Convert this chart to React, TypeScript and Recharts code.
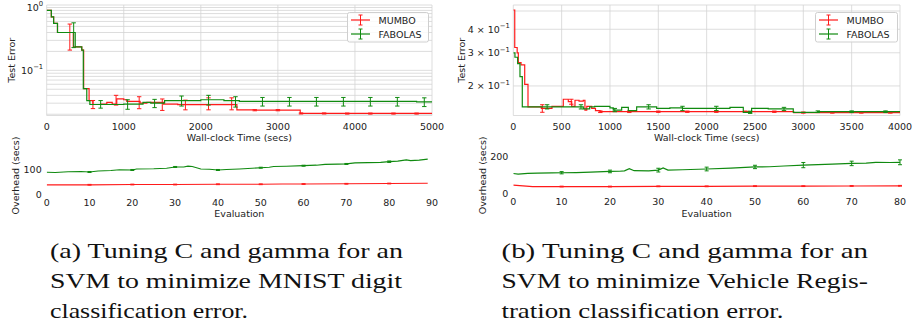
import React from 'react';
import {
  ComposedChart,
  Line,
  Scatter,
  ErrorBar,
  XAxis,
  YAxis,
  CartesianGrid,
  ReferenceArea,
  Legend,
} from 'recharts';

const RED = '#ff1a1a';
const GREEN = '#108a10';
const FONT = 'DejaVu Sans';
const FS = 9.5;
const TXT = '#222';
const FRAME = '#9a9a9a';
const GRID = '#d4d4d4';

// ---------- (a) MNIST : test error vs wall-clock time ----------
const mnistMumboTime = [0, 60, 90, 140, 345, 455, 480, 550, 600, 700, 780, 850, 909, 1000, 1039, 1212, 1300, 1515, 1700, 2468, 2700, 3290, 5000];
const mnistMumboErr = [0.9, 0.71, 0.56, 0.4, 0.236, 0.21, 0.051, 0.033, 0.0286, 0.029, 0.031, 0.029, 0.035, 0.034, 0.032, 0.03, 0.031, 0.029, 0.0285, 0.0235, 0.0232, 0.0206, 0.0205];
const mnistFabolasTime = [0, 60, 90, 140, 370, 455, 475, 520, 560, 1000, 1250, 1350, 1530, 2000, 2300, 2500, 4800, 5000];
const mnistFabolasErr = [0.9, 0.71, 0.56, 0.4, 0.236, 0.21, 0.051, 0.033, 0.0286, 0.029, 0.031, 0.03, 0.033, 0.034, 0.033, 0.032, 0.0315, 0.0315];

const mnistMumboBarTime = [300, 600, 900, 1200, 1500, 1800, 2100, 2400, 2700, 3000, 3300, 3600, 3900, 4200, 4500, 4800];
const mnistMumboBarMean = [0.4, 0.0286, 0.032, 0.03, 0.029, 0.0285, 0.0285, 0.0285, 0.0232, 0.0232, 0.0206, 0.0206, 0.0205, 0.0205, 0.0205, 0.0205];
const mnistMumboBarLow = [0.19, 0.004, 0.004, 0.0055, 0.006, 0.005, 0.005, 0.005, 0.0005, 0.0005, 0.0004, 0.0004, 0.0004, 0.0004, 0.0004, 0.0004];
const mnistMumboBarHigh = [0.145, 0.0045, 0.008, 0.008, 0.006, 0.005, 0.008, 0.008, 0.0005, 0.0005, 0.0004, 0.0004, 0.0004, 0.0004, 0.0004, 0.0004];
const mnistFabolasBarTime = [350, 700, 1050, 1400, 1750, 2100, 2450, 2800, 3150, 3500, 3850, 4200, 4550, 4900];
const mnistFabolasBarMean = [0.4, 0.029, 0.029, 0.03, 0.033, 0.034, 0.032, 0.032, 0.032, 0.032, 0.032, 0.032, 0.032, 0.0315];
const mnistFabolasBarErr = [0.17, 0.004, 0.005, 0.0045, 0.006, 0.006, 0.006, 0.005, 0.005, 0.005, 0.005, 0.005, 0.005, 0.005];

const mnistTimeTicks = [0, 1000, 2000, 3000, 4000, 5000];
const mnistErrTicks = [0.02, 0.03, 0.04, 0.05, 0.06, 0.07, 0.08, 0.09, 0.1, 0.2, 0.3, 0.4, 0.5, 0.6, 0.7, 0.8, 0.9, 1];
const mnistErrLabels = [
  { value: 0.1, pre: '', exp: '\u22121' },
  { value: 1, pre: '', exp: '0' },
];

// ---------- (a) MNIST : overhead vs evaluation ----------
const mnistEvalFab = [0, 2, 5, 8, 10, 12, 15, 17, 20, 21, 25, 28, 30, 32, 33, 34, 36, 38, 40, 42, 45, 48, 50, 52, 53, 56, 60, 63, 65, 68, 70, 72, 75, 78, 80, 82, 84, 85, 87, 89];
const mnistOverFab = [88, 87, 90, 91, 89, 93, 95, 98, 97, 101, 102, 104, 109, 109, 112, 111, 101, 100, 97, 99, 101, 104, 106, 108, 111, 112, 114, 116, 119, 120, 121, 125, 126, 127, 130, 132, 137, 134, 136, 140];
const mnistEvalMum = [0, 10, 20, 30, 40, 50, 55, 60, 70, 80, 89];
const mnistOverMum = [38, 38, 39, 39, 40, 40, 41, 41, 42, 43, 44];
const mnistOverBarEval = [10, 20, 30, 40, 50, 60, 70, 80];
const mnistOverBarFab = [89, 97, 109, 97, 106, 114, 121, 130];
const mnistOverBarFabErr = [2, 2, 2, 2, 2, 2, 2, 3];
const mnistOverBarMum = [38, 39, 39, 40, 40, 41, 42, 43];
const mnistOverBarMumErr = [1.5, 1.5, 1.5, 1.5, 1.5, 1.5, 1.5, 1.5];
const mnistEvalTicks = [0, 10, 20, 30, 40, 50, 60, 70, 80, 90];
const mnistOverTicks = [0, 100];

// ---------- (b) Vehicle : test error vs wall-clock time ----------
const vehMumboTime = [0, 15, 40, 52, 80, 118, 152, 290, 400, 517, 569, 604, 638, 680, 724, 741, 760, 811, 850, 897, 2900, 4000];
const vehMumboErr = [0.506, 0.32, 0.3, 0.266, 0.259, 0.204, 0.155, 0.152, 0.156, 0.17, 0.165, 0.156, 0.168, 0.166, 0.168, 0.149, 0.156, 0.152, 0.148, 0.146, 0.1445, 0.1445];
const vehFabolasTime = [0, 17, 45, 69, 93, 724, 790, 840, 1000, 1034, 1121, 1190, 1276, 1483, 1620, 1750, 2241, 2379, 2465, 2637, 2896, 3150, 4000];
const vehFabolasErr = [0.3, 0.284, 0.263, 0.224, 0.155, 0.151, 0.155, 0.156, 0.153, 0.149, 0.154, 0.148, 0.155, 0.152, 0.153, 0.152, 0.154, 0.145, 0.152, 0.151, 0.145, 0.146, 0.146];

const vehMumboBarTime = [300, 600, 900, 1200, 1500, 1800, 2100, 2400, 2700, 3000, 3300, 3600, 3900];
const vehMumboBarMean = [0.152, 0.165, 0.146, 0.146, 0.146, 0.146, 0.146, 0.146, 0.146, 0.1445, 0.1445, 0.1445, 0.1445];
const vehMumboBarErr = [0.007, 0.005, 0.0015, 0.0015, 0.0012, 0.0012, 0.0012, 0.0012, 0.0012, 0.001, 0.001, 0.001, 0.001];
const vehFabolasBarTime = [350, 700, 1050, 1400, 1750, 2100, 2450, 2800, 3150, 3500, 3850];
const vehFabolasBarMean = [0.155, 0.155, 0.149, 0.155, 0.152, 0.152, 0.145, 0.151, 0.146, 0.146, 0.146];
const vehFabolasBarErr = [0.004, 0.004, 0.003, 0.004, 0.004, 0.004, 0.002, 0.003, 0.0015, 0.0015, 0.0015];

const vehTimeTicks = [0, 500, 1000, 1500, 2000, 2500, 3000, 3500, 4000];
const vehErrTicks = [0.2, 0.3, 0.4, 0.5];
const vehErrLabels = [
  { value: 0.2, pre: '2 \u00d7 ', exp: '\u22121' },
  { value: 0.3, pre: '3 \u00d7 ', exp: '\u22121' },
  { value: 0.4, pre: '4 \u00d7 ', exp: '\u22121' },
];

// ---------- (b) Vehicle : overhead vs evaluation ----------
const vehEvalFab = [0, 1, 3, 5, 8, 10, 13, 16, 20, 22, 23, 24, 25, 28, 30, 31, 32, 35, 40, 45, 50, 53, 56, 60, 63, 66, 70, 73, 75, 78, 80];
const vehOverFab = [110, 107, 111, 112, 113, 114, 115, 117, 121, 122, 124, 136, 125, 124, 128, 140, 128, 130, 134, 139, 145, 146, 150, 155, 157, 160, 164, 166, 170, 169, 170];
const vehEvalMum = [0, 2, 4, 10, 20, 30, 40, 50, 60, 70, 80];
const vehOverMum = [48, 44, 40, 40, 40, 41, 41, 42, 42, 43, 44];
const vehOverBarEval = [10, 20, 30, 40, 50, 60, 70, 80];
const vehOverBarFab = [114, 121, 128, 134, 145, 155, 164, 170];
const vehOverBarFabErr = [6, 7, 10, 10, 9, 14, 12, 13];
const vehOverBarMum = [40, 40, 41, 41, 42, 42, 43, 44];
const vehOverBarMumErr = [2, 2, 2, 2, 2, 2, 2, 2];
const vehEvalTicks = [0, 10, 20, 30, 40, 50, 60, 70, 80];
const vehOverTicks = [0, 200];

// ---------- captions ----------
const captionA = ['(a) Tuning C and gamma for an', 'SVM to minimize MNIST digit', 'classification error.'];
const captionB = ['(b) Tuning C and gamma for an', 'SVM to minimize Vehicle Regis-', 'tration classification error.'];

// ---------- helpers ----------
const zip = (xs: number[], ys: number[]) => xs.map((t, i) => ({ t, v: ys[i] }));
const zipErr = (xs: number[], ys: number[], lo: number[], hi: number[]) =>
  xs.map((t, i) => ({ t, v: ys[i], e: [lo[i], hi[i]] }));

const near = (a: number, b: number) => Math.abs(a - b) < 1e-9;

const makeLogTick = (labels: { value: number; pre: string; exp: string }[]) => (props: any) => {
  const { x, y, payload } = props;
  const lab = labels.find((l) => near(l.value, payload.value));
  if (!lab) return <g />;
  return (
    <text x={x} y={y} dy="0.36em" textAnchor="end" fontFamily={FONT} fontSize={FS} fill={TXT}>
      {lab.pre}10
      <tspan dy={-4.5} fontSize={6.8}>{lab.exp}</tspan>
    </text>
  );
};

const LegendBox = ({ w }: { w: number }) => (
  <svg width={w} height={31} style={{ display: 'block' }}>
    <rect x={0.5} y={0.5} width={w - 1} height={29.5} rx={2} fill="#fff" fillOpacity={0.85} stroke="#cfcfcf" />
    <line x1={4} x2={23} y1={8} y2={8} stroke={RED} strokeWidth={1.2} />
    <line x1={13.5} x2={13.5} y1={3} y2={13} stroke={RED} strokeWidth={1} />
    <line x1={11.5} x2={15.5} y1={3} y2={3} stroke={RED} strokeWidth={1} />
    <line x1={11.5} x2={15.5} y1={13} y2={13} stroke={RED} strokeWidth={1} />
    <text x={31.5} y={11.5} fontFamily={FONT} fontSize={FS} fill={TXT}>MUMBO</text>
    <line x1={4} x2={23} y1={22} y2={22} stroke={GREEN} strokeWidth={1.2} />
    <line x1={13.5} x2={13.5} y1={17} y2={27} stroke={GREEN} strokeWidth={1} />
    <line x1={11.5} x2={15.5} y1={17} y2={17} stroke={GREEN} strokeWidth={1} />
    <line x1={11.5} x2={15.5} y1={27} y2={27} stroke={GREEN} strokeWidth={1} />
    <text x={31.5} y={25.5} fontFamily={FONT} fontSize={FS} fill={TXT}>FABOLAS</text>
  </svg>
);

const noShape = () => <g />;

type TopProps = {
  width: number;
  left: number;
  yAxisWidth: number;
  marginRight: number;
  mumbo: { t: number; v: number }[];
  fabolas: { t: number; v: number }[];
  mumboBars: any[];
  fabolasBars: any[];
  xMax: number;
  xTicks: number[];
  yDomain: [number, number];
  yTicks: number[];
  yLabels: { value: number; pre: string; exp: string }[];
  yLabelOffset: number;
  legendLeft: number;
  legendWidth: number;
};

const axisTick = { fontFamily: FONT, fontSize: FS, fill: TXT };

const TopChart = (p: TopProps) => (
  <div style={{ position: 'absolute', left: p.left, top: 0 }}>
    <ComposedChart
      width={p.width}
      height={145}
      margin={{ top: 5, right: p.marginRight, left: 0, bottom: 0 }}
    >
      <CartesianGrid stroke={GRID} strokeWidth={0.8} />
      <XAxis
        type="number"
        dataKey="t"
        domain={[0, p.xMax]}
        ticks={p.xTicks}
        allowDataOverflow
        height={29.5}
        tickLine={false}
        tickSize={0}
        tickMargin={7.5}
        axisLine={false}
        tick={axisTick}
        label={{ value: 'Wall-clock Time (secs)', position: 'insideBottom', offset: 4.5, style: { fontFamily: FONT, fontSize: FS, fill: TXT } }}
      />
      <YAxis
        type="number"
        scale="log"
        domain={p.yDomain}
        ticks={p.yTicks}
        allowDataOverflow
        interval={0}
        width={p.yAxisWidth}
        tickLine={false}
        tickSize={0}
        tickMargin={3.5}
        axisLine={false}
        tick={makeLogTick(p.yLabels)}
        label={{ value: 'Test Error', angle: -90, position: 'insideLeft', offset: p.yLabelOffset, style: { textAnchor: 'middle', fontFamily: FONT, fontSize: FS, fill: TXT } }}
      />
      <ReferenceArea fill="none" stroke={FRAME} strokeWidth={1} ifOverflow="visible" />
      <Line data={p.mumbo} dataKey="v" type="stepAfter" stroke={RED} strokeWidth={1.2} dot={false} isAnimationActive={false} />
      <Scatter data={p.mumboBars} dataKey="v" shape={noShape} isAnimationActive={false}>
        <ErrorBar dataKey="e" direction="y" width={2.2} stroke={RED} strokeWidth={1} isAnimationActive={false} />
      </Scatter>
      <Line data={p.fabolas} dataKey="v" type="stepAfter" stroke={GREEN} strokeWidth={1.2} dot={false} isAnimationActive={false} />
      <Scatter data={p.fabolasBars} dataKey="v" shape={noShape} isAnimationActive={false}>
        <ErrorBar dataKey="e" direction="y" width={2.2} stroke={GREEN} strokeWidth={1} isAnimationActive={false} />
      </Scatter>
      <Legend
        layout="horizontal"
        verticalAlign="middle"
        align="center"
        wrapperStyle={{ left: p.legendLeft, top: 11.5, width: p.legendWidth, height: 31 }}
        content={() => <LegendBox w={p.legendWidth} />}
      />
    </ComposedChart>
  </div>
);

type BottomProps = {
  width: number;
  left: number;
  yAxisWidth: number;
  marginRight: number;
  fab: { t: number; v: number }[];
  mum: { t: number; v: number }[];
  fabBars: any[];
  mumBars: any[];
  xMax: number;
  xTicks: number[];
  yMax: number;
  yTicks: number[];
  yLabelOffset: number;
  xAxisHeight: number;
};

// chart box spans y = 125..225 so the rotated axis title fits inside it
const BottomChart = (p: BottomProps) => (
  <div style={{ position: 'absolute', left: p.left, top: 125 }}>
    <ComposedChart
      width={p.width}
      height={100}
      margin={{ top: 31.7, right: p.marginRight, left: 0, bottom: 0 }}
    >
      <XAxis
        type="number"
        dataKey="t"
        domain={[0, p.xMax]}
        ticks={p.xTicks}
        allowDataOverflow
        height={p.xAxisHeight}
        tickLine={false}
        tickSize={0}
        tickMargin={4.5}
        axisLine={false}
        tick={axisTick}
        label={{ value: 'Evaluation', position: 'insideBottom', offset: 8.5, style: { fontFamily: FONT, fontSize: FS, fill: TXT } }}
      />
      <YAxis
        type="number"
        domain={[0, p.yMax]}
        ticks={p.yTicks}
        allowDataOverflow
        width={p.yAxisWidth}
        tickLine={false}
        tickSize={0}
        tickMargin={5}
        axisLine={false}
        tick={axisTick}
        label={{ value: 'Overhead (secs)', angle: -90, position: 'insideLeft', offset: p.yLabelOffset, style: { textAnchor: 'middle', fontFamily: FONT, fontSize: FS, fill: TXT } }}
      />
      <ReferenceArea fill="none" stroke={FRAME} strokeWidth={1} ifOverflow="visible" />
      <Line data={p.fab} dataKey="v" type="linear" stroke={GREEN} strokeWidth={1.2} dot={false} isAnimationActive={false} />
      <Scatter data={p.fabBars} dataKey="v" shape={noShape} isAnimationActive={false}>
        <ErrorBar dataKey="e" direction="y" width={2} stroke={GREEN} strokeWidth={1} isAnimationActive={false} />
      </Scatter>
      <Line data={p.mum} dataKey="v" type="linear" stroke={RED} strokeWidth={1.2} dot={false} isAnimationActive={false} />
      <Scatter data={p.mumBars} dataKey="v" shape={noShape} isAnimationActive={false}>
        <ErrorBar dataKey="e" direction="y" width={2} stroke={RED} strokeWidth={1} isAnimationActive={false} />
      </Scatter>
    </ComposedChart>
  </div>
);

const Caption = ({ x, lines, widths }: { x: number; lines: string[]; widths: number[] }) => (
  <>
    {lines.map((l, i) => (
      <text
        key={i}
        x={x}
        y={33.3 + i * 29.7}
        fontFamily="Liberation Serif"
        fontSize={21}
        fill="#111"
        textLength={widths[i]}
        lengthAdjust="spacingAndGlyphs"
      >
        {l}
      </text>
    ))}
  </>
);

export default function App() {
  const sym = (arr: number[]) => arr.map((e) => [e, e]);
  const mnistMB = zipErr(mnistMumboBarTime, mnistMumboBarMean, mnistMumboBarLow, mnistMumboBarHigh);
  const mnistFB = mnistFabolasBarTime.map((t, i) => ({ t, v: mnistFabolasBarMean[i], e: sym(mnistFabolasBarErr)[i] }));
  const vehMB = vehMumboBarTime.map((t, i) => ({ t, v: vehMumboBarMean[i], e: sym(vehMumboBarErr)[i] }));
  const vehFB = vehFabolasBarTime.map((t, i) => ({ t, v: vehFabolasBarMean[i], e: sym(vehFabolasBarErr)[i] }));
  const mOvFB = mnistOverBarEval.map((t, i) => ({ t, v: mnistOverBarFab[i], e: mnistOverBarFabErr[i] }));
  const mOvMB = mnistOverBarEval.map((t, i) => ({ t, v: mnistOverBarMum[i], e: mnistOverBarMumErr[i] }));
  const vOvFB = vehOverBarEval.map((t, i) => ({ t, v: vehOverBarFab[i], e: vehOverBarFabErr[i] }));
  const vOvMB = vehOverBarEval.map((t, i) => ({ t, v: vehOverBarMum[i], e: vehOverBarMumErr[i] }));

  return (
    <div style={{ position: 'absolute', left: 0, top: 0, width: 913, height: 324, background: '#fff', overflow: 'hidden' }}>
      <TopChart
        width={450}
        left={0}
        yAxisWidth={46.7}
        marginRight={18}
        mumbo={zip(mnistMumboTime, mnistMumboErr)}
        fabolas={zip(mnistFabolasTime, mnistFabolasErr)}
        mumboBars={mnistMB}
        fabolasBars={mnistFB}
        xMax={5000}
        xTicks={mnistTimeTicks}
        yDomain={[0.0191, 1.096]}
        yTicks={mnistErrTicks}
        yLabels={mnistErrLabels}
        yLabelOffset={11.7}
        legendLeft={346.7}
        legendWidth={82}
      />
      <TopChart
        width={458}
        left={455}
        yAxisWidth={58.3}
        marginRight={13}
        mumbo={zip(vehMumboTime, vehMumboErr)}
        fabolas={zip(vehFabolasTime, vehFabolasErr)}
        mumboBars={vehMB}
        fabolasBars={vehFB}
        xMax={4000}
        xTicks={vehTimeTicks}
        yDomain={[0.1394, 0.538]}
        yTicks={vehErrTicks}
        yLabels={vehErrLabels}
        yLabelOffset={6.7}
        legendLeft={360}
        legendWidth={83}
      />
      <BottomChart
        width={450}
        left={0}
        yAxisWidth={46.7}
        marginRight={18}
        fab={zip(mnistEvalFab, mnistOverFab)}
        mum={zip(mnistEvalMum, mnistOverMum)}
        fabBars={mOvFB}
        mumBars={mOvMB}
        xMax={90}
        xTicks={mnistEvalTicks}
        yMax={150}
        yTicks={mnistOverTicks}
        yLabelOffset={15.7}
        xAxisHeight={30.7}
      />
      <BottomChart
        width={458}
        left={455}
        yAxisWidth={58.3}
        marginRight={13}
        fab={zip(vehEvalFab, vehOverFab)}
        mum={zip(vehEvalMum, vehOverMum)}
        fabBars={vOvFB}
        mumBars={vOvMB}
        xMax={80}
        xTicks={vehEvalTicks}
        yMax={200}
        yTicks={vehOverTicks}
        yLabelOffset={28}
        xAxisHeight={31}
      />
      <svg width={913} height={99} style={{ position: 'absolute', left: 0, top: 225 }}>
        <Caption x={50} lines={captionA} widths={[353, 352, 198]} />
        <Caption x={501.5} lines={captionB} widths={[366.5, 366.5, 282]} />
      </svg>
    </div>
  );
}
